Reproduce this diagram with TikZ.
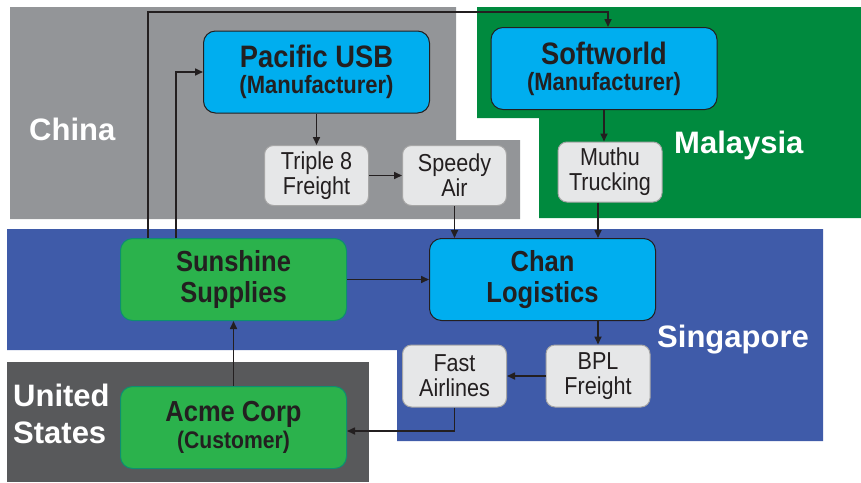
\documentclass[tikz,border=0pt]{standalone}
\usepackage{fontspec}
\setmainfont{Liberation Sans}
\newfontfamily\narrowfont{Liberation Sans}[FakeStretch=0.88]
\usetikzlibrary{arrows.meta}
\definecolor{chinagray}{HTML}{939598}
\definecolor{malaygreen}{HTML}{008A3E}
\definecolor{singblue}{HTML}{3F5BA9}
\definecolor{usgray}{HTML}{58595B}
\definecolor{mfgblue}{HTML}{00AEEF}
\definecolor{custgreen}{HTML}{2BB24C}
\definecolor{shipgray}{HTML}{E6E7E8}
\definecolor{ink}{HTML}{231F20}
\begin{document}
\begin{tikzpicture}
[x=1pt, y=-1pt,
 bigbox/.style={rounded corners=12pt, minimum width=226pt, minimum height=82pt, inner sep=0pt, align=center, text=ink, line width=1pt, font=\narrowfont\bfseries\fontsize{29}{26}\selectfont},
 mfg/.style={bigbox, fill=mfgblue, draw=ink},
 cust/.style={bigbox, fill=custgreen, draw=teal!70!custgreen},
 ship/.style={rounded corners=9pt, fill=shipgray, draw=black!35, line width=1pt, minimum width=104pt, minimum height=60pt, inner sep=0pt, align=center, text=ink, font=\narrowfont\fontsize{24.5}{25}\selectfont},
 region/.style={text=white, inner sep=0pt, align=left, font=\bfseries\fontsize{31}{37}\selectfont},
 flow/.style={-{Triangle[length=8pt,width=7pt]}, line width=1.6pt, draw=ink}]
\useasboundingbox (0,0) rectangle (861,482);
% countries
\fill[chinagray] (10,7) -- (456,7) -- (456,140) -- (520,140) -- (520,219) -- (10,219) -- cycle;
\fill[malaygreen] (477,7) -- (861,7) -- (861,218) -- (539,218) -- (539,118) -- (477,118) -- cycle;
\fill[singblue] (7,229) -- (823,229) -- (823,441) -- (397,441) -- (397,350) -- (7,350) -- cycle;
\fill[usgray] (7,362) rectangle (369,482);
\node[region, anchor=base west] (china) at (29,140) {China};
\node[region, anchor=base west] (malaysia) at (674,153.5) {Malaysia};
\node[region, anchor=base west] (singapore) at (657,347) {Singapore};
\node[region, anchor=west] (usa) at (13,414) {United\\States};
% companies
\node[mfg] (pacific) at (316.5,72) {{\fontsize{31}{31}\selectfont Pacific USB}\\{\fontsize{25}{26}\selectfont (Manufacturer)}};
\node[mfg] (softworld) at (604,68.5) {{\fontsize{31}{31}\selectfont Softworld}\\{\fontsize{25}{26}\selectfont (Manufacturer)}};
\node[mfg] (chan) at (542.5,279.5) {Chan\\[5pt]Logistics};
\node[cust] (sunshine) at (233.5,279.5) {Sunshine\\[5pt]Supplies};
\node[cust] (acme) at (233.5,427.5) {Acme Corp\\[1pt]{\fontsize{24}{26}\selectfont (Customer)}};
% carriers
\node[ship] (triple) at (316.5,175.5) {Triple 8\\Freight};
\node[ship] (speedy) at (454.5,175.5) {Speedy\\Air};
\node[ship] (muthu) at (610,172) {Muthu\\Trucking};
\node[ship, minimum height=62pt] (fast) at (454.5,376) {Fast\\Airlines};
\node[ship, minimum height=62pt] (bpl) at (598,376) {BPL\\Freight};
% flows
\coordinate (route) at (608,12);
\draw[flow] ([xshift=28pt]sunshine.north west) |- (route) -- (route |- softworld.north);
\draw[flow] ([xshift=56pt]sunshine.north west) |- (pacific.west);
\draw[flow] (pacific.south) -- (triple.north);
\draw[flow] (triple.east) -- (speedy.west);
\draw[flow] (speedy.south) -- (speedy.south |- chan.north);
\draw[flow] (softworld.south) -- (softworld.south |- muthu.north);
\draw[flow] (muthu.south -| bpl) -- (chan.north -| bpl);
\draw[flow] (sunshine.east) -- (chan.west);
\draw[flow] (chan.south -| bpl) -- (bpl.north);
\draw[flow] (bpl.west) -- (fast.east);
\draw[flow] (fast.south) |- ([yshift=-3.5pt]acme.east);
\draw[flow] (acme.north) -- (sunshine.south);
\end{tikzpicture}
\end{document}
